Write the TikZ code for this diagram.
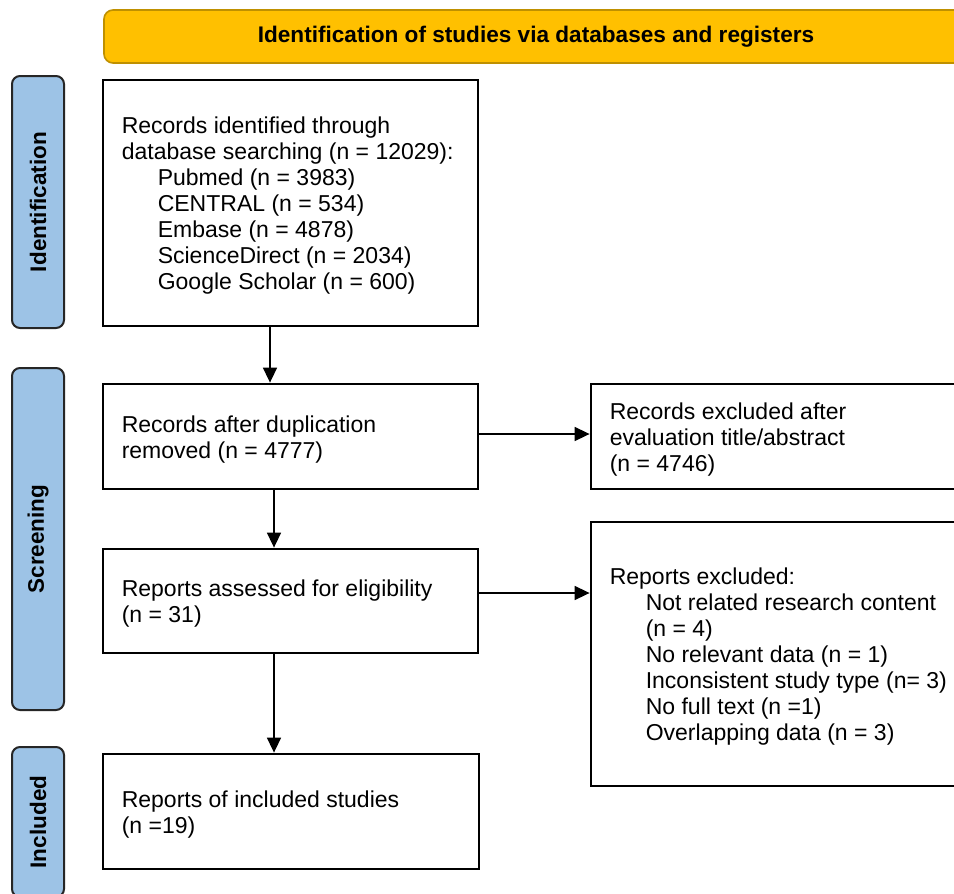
\documentclass[tikz,border=0pt]{standalone}
\usepackage{fontspec}
\setmainfont{Liberation Sans}
\usetikzlibrary{arrows.meta}
\definecolor{bannerfill}{HTML}{FFC000}
\definecolor{bannerline}{HTML}{BF9000}
\definecolor{sideblue}{HTML}{9DC3E6}
\begin{document}
\begin{tikzpicture}[x=1pt,y=-1pt,
  box/.style={draw=black,line width=2.8pt,fill=white,rectangle,inner sep=0pt},
  txt/.style={align=left,inner sep=0pt,anchor=west,yshift=-3pt,font=\fontsize{23}{26}\selectfont},
  side/.style={draw=black!85,line width=2pt,fill=sideblue,rounded corners=8pt,inner sep=0pt,minimum width=52pt},
  sidetxt/.style={rotate=90,inner sep=0pt,font=\bfseries\fontsize{22.5}{26}\selectfont},
  banner/.style={draw=bannerline,line width=1.6pt,fill=bannerfill,rounded corners=9pt,inner sep=0pt,font=\bfseries\fontsize{22.6}{26}\selectfont},
  arr/.style={line width=1.6pt,-{Triangle[length=15pt,width=14pt]}}]
\clip (0,0) rectangle (954,894);
\fill[white] (0,0) rectangle (954,894);

% banner
\node[banner,minimum width=864pt,minimum height=53pt] (ban) at (536,36.5) {Identification of studies via databases and registers};

% side labels
\node[side,minimum height=252pt] (sid) at (38,202) {};
\node[sidetxt] (sidt) at (sid.center) {Identification};
\node[side,minimum height=342pt] (sscr) at (38,539) {};
\node[sidetxt] (sscrt) at (sscr.center) {Screening};
\node[side,minimum height=150pt] (sinc) at (38,822) {};
\node[sidetxt] (sinct) at (sinc.center) {Included};

% boxes
\node[box,minimum width=375pt,minimum height=246pt] (b1) at (290.5,203) {};
\node[box,minimum width=375pt,minimum height=105pt] (b2) at (290.5,436.5) {};
\node[box,minimum width=375pt,minimum height=104pt] (b3) at (290.5,601) {};
\node[box,minimum width=376pt,minimum height=115pt] (b4) at (291,811.5) {};
\node[box,minimum width=409pt,minimum height=105pt] (r1) at (795.5,436.5) {};
\node[box,minimum width=409pt,minimum height=264pt] (r2) at (795.5,654) {};

% texts
\node[txt] (t1) at ([xshift=20pt]b1.west) {Records identified through\\database searching (n = 12029):\\
\hspace*{36pt}Pubmed (n = 3983)\\
\hspace*{36pt}CENTRAL (n = 534)\\
\hspace*{36pt}Embase (n = 4878)\\
\hspace*{36pt}ScienceDirect (n = 2034)\\
\hspace*{36pt}Google Scholar (n = 600)};
\node[txt] (t2) at ([xshift=20pt]b2.west) {Records after duplication\\removed (n = 4777)};
\node[txt] (t3) at ([xshift=20pt]b3.west) {Reports assessed for eligibility\\(n = 31)};
\node[txt] (t4) at ([xshift=20pt]b4.west) {Reports of included studies\\(n =19)};
\node[txt] (tr1) at ([xshift=20pt]r1.west) {Records excluded after\\evaluation title/abstract\\(n = 4746)};
\node[txt] (tr2) at ([xshift=20pt]r2.west) {Reports excluded:\\
\hspace*{36pt}Not related research content\\
\hspace*{36pt}(n = 4)\\
\hspace*{36pt}No relevant data (n = 1)\\
\hspace*{36pt}Inconsistent study type (n= 3)\\
\hspace*{36pt}No full text (n =1)\\
\hspace*{36pt}Overlapping data (n = 3)};

% connector guide coordinates
\coordinate (xa) at (270,0);
\coordinate (xb) at (274,0);
\coordinate (ya) at (0,434);
\coordinate (yb) at (0,593);

% connectors
\draw[arr] (b1.south -| xa) -- (b2.north -| xa);
\draw[arr] (b2.south -| xb) -- (b3.north -| xb);
\draw[arr] (b3.south -| xb) -- (b4.north -| xb);
\draw[arr] (b2.east |- ya) -- (r1.west |- ya);
\draw[arr] (b3.east |- yb) -- (r2.west |- yb);
\end{tikzpicture}
\end{document}
